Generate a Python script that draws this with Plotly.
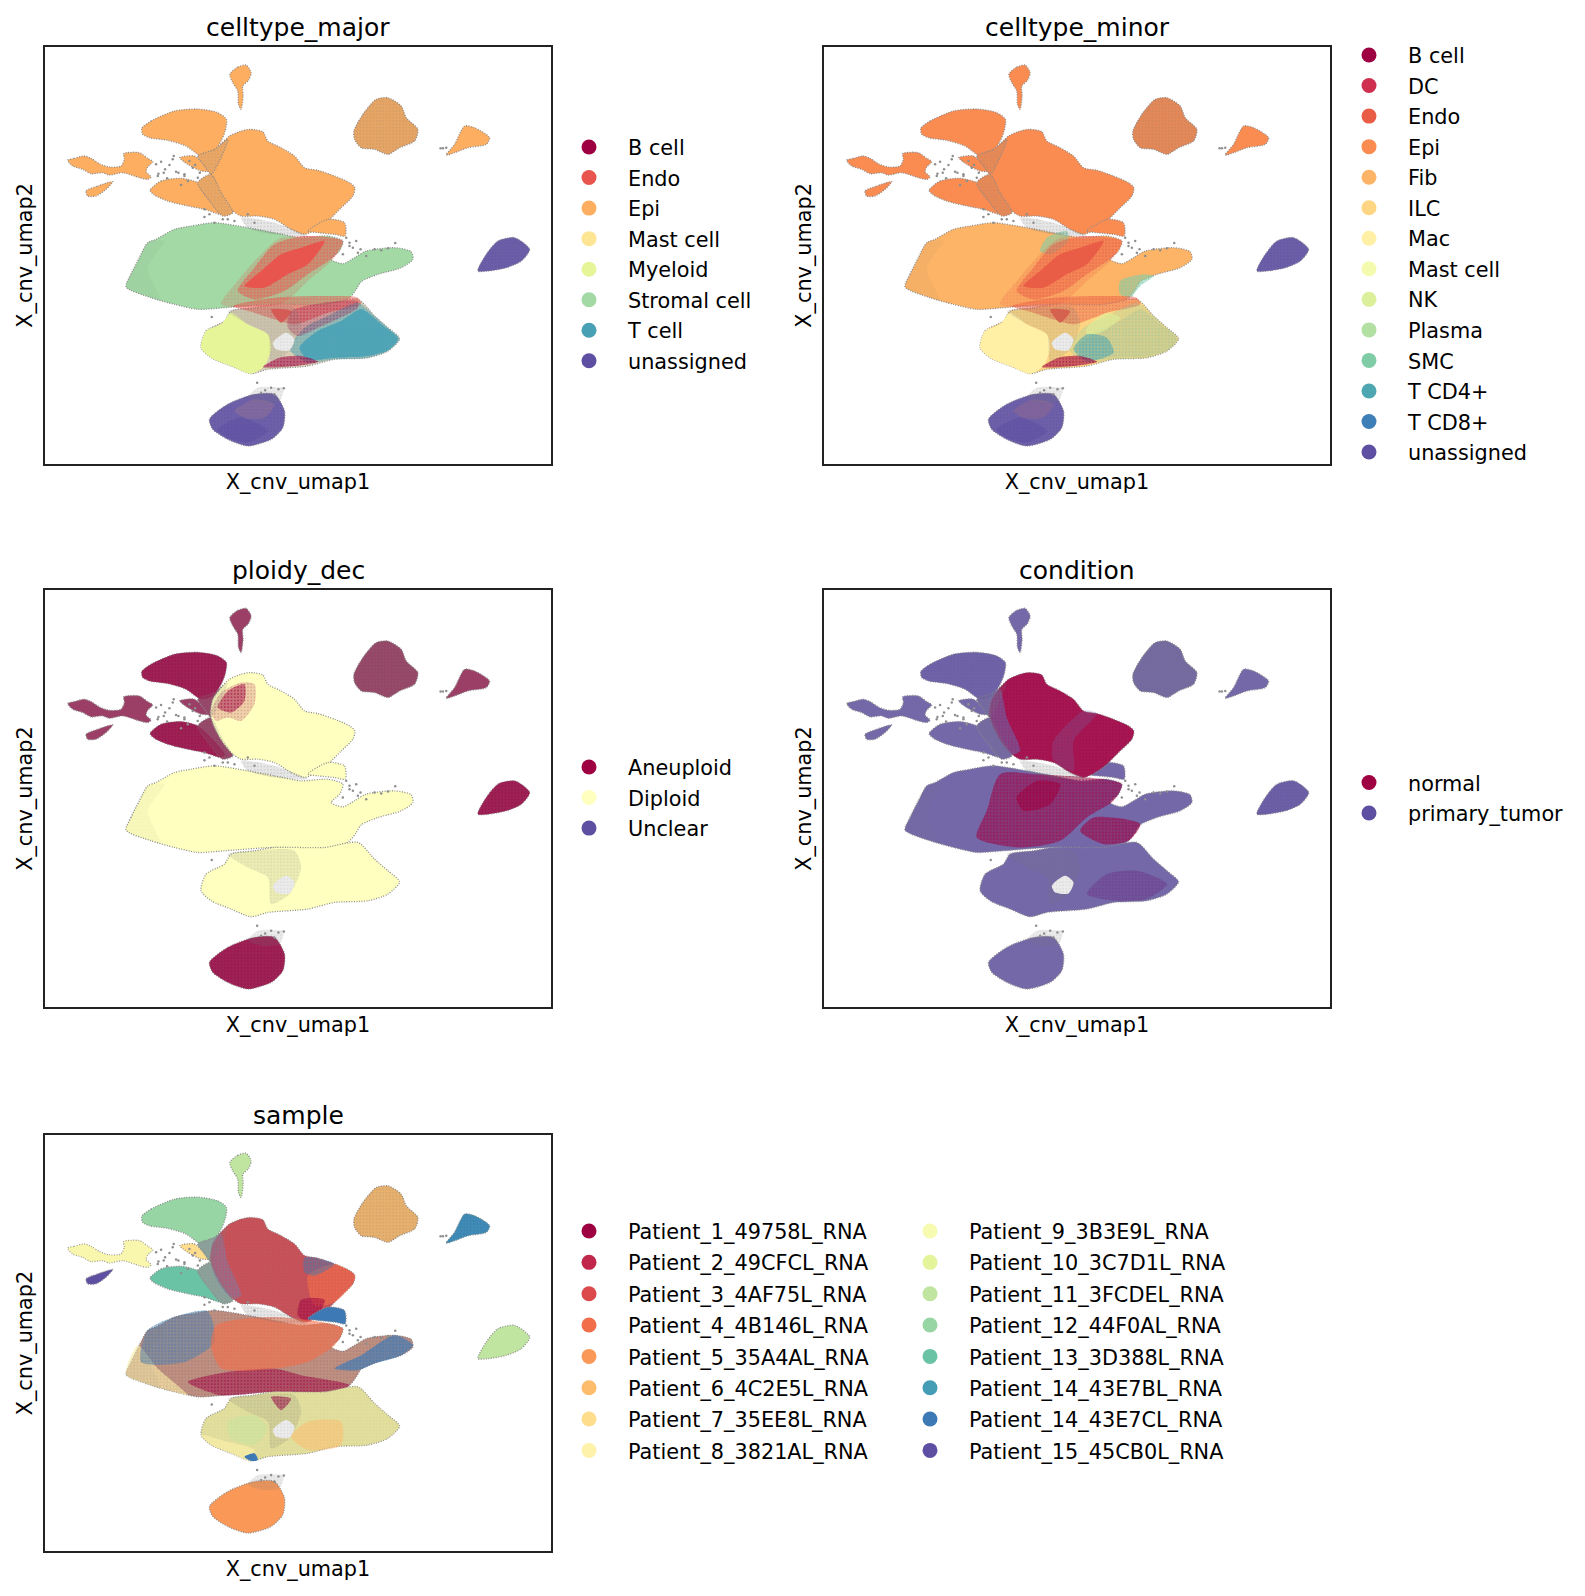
import plotly.graph_objects as go
from plotly.subplots import make_subplots

W, H = 1585, 1596
PAGE_MARGIN = 7  # the browser keeps a body margin round the plot

# cluster outlines on the umap plane
tail = [(566,100),(590,78),(615,72),(630,95),(622,118),(605,135),(606,165),(600,205),(592,190),(590,150),(575,125)]
lobe_a = [(302,262),(330,240),(400,210),(470,204),(530,215),(556,235),(552,270),(540,300),(515,335),(480,345),(435,315),(380,298),(325,290),(305,280)]
lobe_b = [(327,448),(360,420),(420,412),(470,425),(520,470),(552,512),(540,520),(490,505),(440,495),(380,480),(340,462)]
wedge = [(416,350),(460,345),(505,390),(480,390),(440,370)]
conn_a = [(470,345),(520,325),(560,295),(530,370),(510,400),(490,375)]
conn_b = [(470,425),(510,400),(540,455),(575,515),(545,525),(505,480)]
left_arm = [(80,358),(100,352),(130,345),(150,352),(175,368),(205,378),(240,375),(250,355),(248,338),(295,335),(320,352),(335,362),(320,378),(315,392),(330,408),(320,415),(295,410),(245,395),(205,402),(185,395),(150,398),(125,385),(95,375)]
left_small = [(135,450),(170,435),(215,422),(195,445),(165,465),(140,465)]
main_epi = [(515,345),(540,310),(565,285),(600,270),(625,265),(665,272),(680,300),(720,320),(760,345),(790,380),(830,388),(880,405),(925,425),(941,440),(935,465),(900,500),(860,540),(825,565),(790,580),(750,565),(700,535),(650,525),(600,525),(575,510),(545,475),(520,430),(508,390)]
epi_right = [(800,570),(860,535),(910,545),(912,585),(880,580),(830,575)]
top_right = [(938,270),(965,220),(1005,175),(1040,170),(1080,195),(1095,230),(1130,265),(1120,300),(1075,320),(1040,340),(1000,325),(960,320),(940,295)]
tri = [(1215,342),(1240,310),(1270,255),(1300,260),(1345,290),(1335,310),(1280,320),(1240,335)]
right_blob = [(1310,690),(1335,640),(1370,600),(1420,590),(1465,625),(1440,660),(1395,680),(1340,690)]
bottom_blob = [(505,1135),(560,1090),(640,1060),(700,1060),(730,1110),(725,1160),(690,1195),(620,1215),(560,1195),(515,1165)]
bottom_top = [(620,1068),(650,1040),(700,1038),(728,1042),(715,1080),(660,1085)]
middle = [(255,738),(270,700),(295,650),(320,605),(345,595),(400,565),(450,555),(520,545),(620,560),(700,575),(780,590),(860,585),(905,600),(895,630),(870,655),(905,668),(940,650),(975,630),(1060,620),(1110,632),(1115,655),(1080,680),(1010,700),(960,722),(945,745),(925,770),(860,800),(700,790),(550,800),(470,805),(400,790),(330,770)]
lower = [(480,920),(495,870),(550,840),(570,810),(640,800),(700,790),(850,790),(950,775),(1000,825),(1040,860),(1075,893),(1040,930),(980,950),(880,955),(800,975),(680,985),(630,998),(570,975),(510,950)]

endo_wide = [(540,790),(590,720),(650,650),(720,590),(905,600),(880,650),(800,720),(720,790)]
endo_band = [(590,750),(640,680),(700,610),(790,585),(905,600),(880,645),(800,700),(730,750),(640,775)]
endo_core = [(610,735),(660,690),(720,640),(780,620),(850,600),(800,670),(740,700),(670,740)]
endo_low = [(575,795),(700,770),(860,765),(950,770),(960,790),(860,815),(760,850),(700,835),(640,815)]
endo_tri = [(690,805),(750,810),(720,845)]
tcell_wide = [(745,925),(790,860),(860,825),(950,785),(1000,825),(1040,860),(1075,893),(1040,930),(980,950),(880,955),(800,965)]
tcell_core = [(775,920),(830,870),(900,840),(960,805),(1020,850),(1070,893),(1040,928),(980,945),(880,950),(800,955)]
crimson_haze = [(750,810),(950,780),(950,800),(830,860),(770,885),(740,860)]
myeloid = [(480,920),(495,870),(540,850),(570,815),(620,850),(680,880),(690,920),(670,975),(630,998),(570,975),(510,950)]
bcell = [(665,978),(715,950),(780,945),(830,962),(760,975)]
sparse = [(560,810),(640,800),(760,800),(780,850),(745,930),(690,960),(680,880),(620,850)]
hole = [(695,905),(735,875),(760,895),(745,928),(705,925)]
band = [(600,530),(700,545),(800,585),(700,580),(620,560)]
left_edge = [(255,738),(290,650),(320,605),(370,600),(320,680),(360,780),(330,770)]
smc_top = [(680,590),(740,570),(745,600),(690,640),(660,630)]
smc_right = [(900,720),(970,700),(1000,705),(960,735),(930,770),(900,760)]
green_low = [(800,860),(860,815),(900,830),(850,870),(800,885)]
teal_low = [(760,925),(800,880),(860,890),(880,935),(800,960)]
red_patch = [(510,385),(540,325),(600,295),(640,300),(640,360),(600,410),(560,400),(525,410)]
red_core = [(530,370),(560,320),(610,300),(610,350),(570,385)]
mid_red = [(540,570),(650,570),(905,600),(880,650),(800,700),(720,770),(600,790),(470,760),(500,680)]
mid_red_core = [(590,640),(650,590),(720,600),(690,660),(610,680)]
mid_red_right = [(820,700),(960,720),(925,770),(850,780),(780,740)]
epi_edge = [(510,400),(515,340),(540,315),(560,400),(600,500),(575,510),(530,460)]
epi_low_right = [(700,470),(790,380),(830,388),(760,470),(760,560),(700,530)]
teal_left = [(320,605),(400,565),(500,548),(520,640),(430,700),(300,700)]
orange_mid = [(525,590),(690,565),(905,600),(880,650),(800,700),(700,720),(540,720),(510,650)]
crimson_mid = [(440,760),(560,730),(700,720),(780,740),(925,770),(860,800),(700,790),(540,800)]
blue_right = [(880,720),(960,680),(1060,620),(1115,650),(1080,680),(1000,705),(950,725)]
yellow_left = [(255,738),(290,650),(350,720),(440,800),(400,790),(330,770)]
orange_low = [(750,925),(800,880),(900,880),(900,950),(800,965)]
tip_orange = [(800,440),(880,405),(941,440),(935,465),(880,520),(820,530)]
blue_tip = [(790,385),(830,388),(880,405),(820,440),(790,430)]
crimson_epi = [(780,513),(850,513),(830,560),(800,580),(770,560)]
blue_low = [(610,985),(640,975),(650,995),(630,998)]
green_myeloid = [(560,880),(640,860),(680,900),(640,950),(570,930)]
yellow_edge = [(480,920),(510,950),(570,975),(630,998),(640,965),(560,940)]
purple_core = [(800,930),(860,870),(950,860),(1040,900),(980,945),(880,950)]
blob_core = [(530,1165),(600,1130),(680,1170),(620,1205),(560,1190)]
blob_upper = [(580,1110),(640,1075),(700,1090),(670,1130),(610,1130)]

# loose cells scattered between the clusters
stray_x = [345,360,372,385,398,405,352,378,412,430,445,462,476,420,440,395,490,505,520,490,545,580,640,648,672,690,700,712,728,660,915,925,935,945,958,905,1062,1198,1205,1215,512,560,620,350,368,430,455,470,925,950,975,1000,1020,1040]
stray_y = [370,362,385,372,345,392,398,412,395,405,360,372,395,432,420,355,528,520,545,505,535,540,545,1025,1048,1040,1060,1045,1042,1055,590,605,620,600,625,640,606,322,322,320,828,535,520,405,395,400,380,410,615,635,645,625,628,622]

major_cats = ["B cell","Endo","Epi","Mast cell","Myeloid","Stromal cell","T cell","unassigned"]
major_cols = ["#9e0142","#e8554e","#fdae61","#fee593","#e6f598","#a2d9a4","#47a0b3","#5e4fa2"]
minor_cats = ["B cell","DC","Endo","Epi","Fib","ILC","Mac","Mast cell","NK","Plasma","SMC","T CD4+","T CD8+","unassigned"]
minor_cols = ["#9e0142","#cf304f","#e95d47","#fa8c52","#fdb466","#fed683","#fff0a6","#f5fbae","#dcf09b","#b2e0a2","#80cca6","#4ea6b1","#3f7fb8","#5e4fa2"]
ploidy_cats = ["Aneuploid","Diploid","Unclear"]
ploidy_cols = ["#9e0142","#ffffbf","#5e4fa2"]
condition_cats = ["normal","primary_tumor"]
condition_cols = ["#9e0142","#5e4fa2"]
sample_cats = ["Patient_1_49758L_RNA","Patient_2_49CFCL_RNA","Patient_3_4AF75L_RNA","Patient_4_4B146L_RNA",
    "Patient_5_35A4AL_RNA","Patient_6_4C2E5L_RNA","Patient_7_35EE8L_RNA","Patient_8_3821AL_RNA",
    "Patient_9_3B3E9L_RNA","Patient_10_3C7D1L_RNA","Patient_11_3FCDEL_RNA","Patient_12_44F0AL_RNA",
    "Patient_13_3D388L_RNA","Patient_14_43E7BL_RNA","Patient_14_43E7CL_RNA","Patient_15_45CB0L_RNA"]
sample_cols = ["#9e0142","#c1274a","#dc494c","#f26d4a","#fa9857","#fdbb6c","#fedd8d","#fef2aa",
    "#f6fbb1","#e4f49b","#c0e5a0","#97d5a4","#6bc3a5","#449db4","#3c79b5","#5e4fa2"]

titles = ["celltype_major","celltype_minor","ploidy_dec","condition","sample"]
GREY = "#777777"
CLEAR = "rgba(0,0,0,0)"
ISLANDS = [tail, lobe_a, lobe_b, wedge, left_arm, left_small, main_epi, epi_right, top_right, tri]

fig = make_subplots(rows=3, cols=2, specs=[[{},{}],[{},{}],[{},None]])
cells = [(1,1),(1,2),(2,1),(2,2),(3,1)]

def blob(panel, outline, color=CLEAR, dots=None, size=4, solid=0.35, edge=False):
    xs = [p[0] for p in outline] + [outline[0][0]]
    ys = [p[1] for p in outline] + [outline[0][1]]
    kw = {}
    if dots:
        kw["fillpattern"] = dict(shape=".", bgcolor=color, fgcolor=dots, size=size, solidity=solid)
    line = dict(shape="spline", smoothing=0.7, width=0)
    if edge:
        line.update(color="#8c8c8c", width=1.3, dash="1px,1.5px")
    r, c = cells[panel]
    fig.add_trace(go.Scatter(x=xs, y=ys, mode="lines", fill="toself", fillcolor=color, line=line,
                             hoverinfo="skip", showlegend=False, **kw), row=r, col=c)

def grain(panel, outline, color, solid=0.15, layers=3):
    # overplotted cells at this scale read as a blended tint plus a fine dot texture
    cover = 1 - (1 - solid) ** layers
    rgb = [int(color[i:i + 2], 16) for i in (1, 3, 5)]
    tint = "rgba(%d,%d,%d,%.2f)" % (rgb[0], rgb[1], rgb[2], cover * 0.8)
    blob(panel, outline, tint)
    blob(panel, outline, CLEAR, color, 3.3, min(0.25, cover * 0.4))

def base(panel, outlines, color):
    for o in outlines:
        blob(panel, o, color, edge=True)

def speckle(panel, tint=GREY):
    # grey noise that shows through in every panel
    grain(panel, top_right, tint, 0.07)
    grain(panel, conn_a, tint, 0.1, 2)
    grain(panel, conn_b, tint, 0.1, 2)
    grain(panel, band, tint, 0.12, 2)
    grain(panel, sparse, tint, 0.1, 2)
    grain(panel, left_edge, tint, 0.03, 2)
    blob(panel, hole, "#ffffff")
    grain(panel, hole, tint, 0.1, 2)
    grain(panel, bottom_top, tint, 0.1, 2)
    r, c = cells[panel]
    fig.add_trace(go.Scatter(x=stray_x, y=stray_y, mode="markers", marker=dict(size=2.5, color="#8f8f8f"),
                             hoverinfo="skip", showlegend=False), row=r, col=c)

# celltype_major
e, s, u = major_cols[2], major_cols[5], major_cols[7]
base(0, ISLANDS + [conn_a, conn_b], e)
base(0, [middle], s)
base(0, [lower], "#d9cfb4")
base(0, [right_blob, bottom_blob], "#7468ab")
grain(0, right_blob, u, 0.2)
grain(0, bottom_blob, u, 0.15)
grain(0, blob_core, u, 0.3)
grain(0, blob_upper, e, 0.05)
grain(0, endo_wide, major_cols[1], 0.08)
grain(0, endo_band, major_cols[1], 0.25)
blob(0, endo_core, major_cols[1])
grain(0, endo_low, major_cols[1], 0.25)
blob(0, endo_tri, major_cols[1])
grain(0, tcell_wide, major_cols[6], 0.25)
blob(0, tcell_core, "#5aa9b8")
grain(0, tcell_core, major_cols[6], 0.3)
grain(0, crimson_haze, major_cols[0], 0.12)
blob(0, myeloid, major_cols[4])
grain(0, bcell, major_cols[0], 0.3)
speckle(0)

# celltype_minor
e, s = minor_cols[3], minor_cols[4]
base(1, ISLANDS + [conn_a, conn_b], e)
base(1, [middle], s)
base(1, [lower], minor_cols[5])
base(1, [right_blob, bottom_blob], "#7468ab")
grain(1, right_blob, minor_cols[13], 0.2)
grain(1, bottom_blob, minor_cols[13], 0.15)
grain(1, blob_core, minor_cols[13], 0.3)
grain(1, blob_upper, e, 0.05)
grain(1, smc_top, minor_cols[10], 0.3)
grain(1, smc_right, minor_cols[10], 0.3)
grain(1, endo_wide, minor_cols[2], 0.08)
grain(1, endo_band, minor_cols[2], 0.25)
blob(1, endo_core, minor_cols[2])
grain(1, endo_low, minor_cols[2], 0.25)
blob(1, endo_tri, minor_cols[2])
grain(1, tcell_wide, minor_cols[10], 0.1)
grain(1, tcell_core, minor_cols[11], 0.05)
grain(1, green_low, minor_cols[8], 0.3)
grain(1, teal_low, minor_cols[11], 0.28)
blob(1, myeloid, minor_cols[6])
grain(1, bcell, minor_cols[0], 0.35)
speckle(1)

# ploidy_dec
r, y = ploidy_cols[0], ploidy_cols[1]
base(2, ISLANDS[:6] + ISLANDS[8:] + [conn_a, conn_b, right_blob, bottom_blob], "#9c3f66")
grain(2, lobe_a, r, 0.25)
grain(2, lobe_b, r, 0.25)
grain(2, bottom_blob, r, 0.25)
grain(2, right_blob, r, 0.25)
base(2, [main_epi, epi_right, middle, lower], y)
grain(2, red_patch, r, 0.08)
grain(2, red_core, r, 0.25)
speckle(2)

# condition
p, r = "#6a5ba4", "#9e0142"
tumour = ISLANDS[:6] + ISLANDS[7:] + [conn_a, conn_b, right_blob, bottom_blob, middle, lower]
base(3, tumour, "#7468a8")
grain(3, right_blob, condition_cols[1], 0.15)
grain(3, lobe_a, condition_cols[1], 0.1)
base(3, [main_epi], "#a8215a")
grain(3, main_epi, r, 0.15)
grain(3, epi_edge, "#6f62a6", 0.3)
grain(3, epi_low_right, "#7468a8", 0.1)
grain(3, mid_red, r, 0.28)
grain(3, mid_red_core, r, 0.35)
grain(3, mid_red_right, r, 0.3)
grain(3, purple_core, condition_cols[1], 0.2)
grain(3, purple_core, r, 0.05)
speckle(3)

# sample
def col(i):
    return sample_cols[i]
base(4, [tail, right_blob], col(10))
base(4, [lobe_a], col(11))
base(4, [lobe_b], col(12))
base(4, [wedge], col(6))
base(4, [left_arm], col(8))
grain(4, left_arm, col(7), 0.2)
base(4, [left_small], col(15))
base(4, [top_right], col(5))
base(4, [tri], col(14))
grain(4, tri, col(13), 0.2)
base(4, [bottom_blob], col(4))
base(4, [conn_a, conn_b], "#8fa8a0")
base(4, [main_epi], "#c94a58")
grain(4, main_epi, col(3), 0.1)
grain(4, main_epi, col(1), 0.08, 2)
grain(4, main_epi, col(13), 0.04, 2)
grain(4, tip_orange, col(3), 0.35)
grain(4, blue_tip, col(14), 0.2)
grain(4, crimson_epi, col(0), 0.25)
grain(4, epi_edge, "#7a7fb0", 0.2)
base(4, [epi_right], col(14))
base(4, [middle], "#cfa586")
grain(4, middle, col(13), 0.06, 2)
grain(4, middle, col(0), 0.08, 2)
grain(4, yellow_left, col(7), 0.3)
grain(4, teal_left, col(13), 0.18)
grain(4, teal_left, col(15), 0.07)
grain(4, crimson_mid, col(0), 0.25)
grain(4, orange_mid, col(3), 0.33)
grain(4, blue_right, col(14), 0.4)
base(4, [lower], "#e6e6a0")
grain(4, lower, col(6), 0.12)
grain(4, lower, col(13), 0.04, 2)
grain(4, orange_low, col(5), 0.25)
grain(4, green_myeloid, col(10), 0.2)
grain(4, yellow_edge, col(7), 0.3)
grain(4, endo_tri, col(0), 0.3)
blob(4, blue_low, col(14))
speckle(4)

# axes boxes, page pixels
boxes = [(44, 550, 45.7, 463), (823, 1329, 45.7, 463), (44, 550, 589, 1006),
         (823, 1329, 589, 1006), (44, 550, 1134, 1550)]
layout = {}
for i, (x0, x1, y0, y1) in enumerate(boxes):
    sfx = "" if i == 0 else str(i + 1)
    x0, x1 = x0 - PAGE_MARGIN, x1 - PAGE_MARGIN
    y0, y1 = y0 - PAGE_MARGIN, y1 - PAGE_MARGIN
    layout["xaxis" + sfx] = dict(domain=[x0 / W, x1 / W], range=[12, 1529], showticklabels=False, ticks="",
                                 showgrid=False, zeroline=False, showline=True, mirror=True, linecolor="#222222",
                                 linewidth=2, title=dict(text="X_cnv_umap1", font=dict(size=20.8), standoff=9))
    layout["yaxis" + sfx] = dict(domain=[1 - y1 / H, 1 - y0 / H], range=[1269, 17], showticklabels=False, ticks="",
                                 showgrid=False, zeroline=False, showline=True, mirror=True, linecolor="#222222",
                                 linewidth=2, title=dict(text="X_cnv_umap2", font=dict(size=20.8), standoff=5))

# legends: one per panel, two for the sample columns
def legend_dots(panel, cats, cols, legend_id):
    r, c = cells[panel]
    for cat, color in zip(cats, cols):
        fig.add_trace(go.Scatter(x=[None], y=[None], mode="markers", name=cat, legend=legend_id,
                                 legendgroup=legend_id + cat, marker=dict(size=15, color=color)), row=r, col=c)

legend_dots(0, major_cats, major_cols, "legend")
legend_dots(1, minor_cats, minor_cols, "legend2")
legend_dots(2, ploidy_cats, ploidy_cols, "legend3")
legend_dots(3, condition_cats, condition_cols, "legend4")
legend_dots(4, sample_cats[:8], sample_cols[:8], "legend5")
legend_dots(4, sample_cats[8:], sample_cols[8:], "legend6")

def legend_at(x_px, y_px, gap=0.5):
    return dict(x=(x_px - PAGE_MARGIN) / W, y=1 - (y_px - PAGE_MARGIN) / H, xanchor="left", yanchor="middle",
                traceorder="grouped", tracegroupgap=gap, itemwidth=68, itemsizing="trace", bgcolor=CLEAR,
                font=dict(size=20.8), itemclick=False, itemdoubleclick=False)

layout["legend"] = legend_at(549, 253)
layout["legend2"] = legend_at(1329, 253)
layout["legend3"] = legend_at(549, 797)
layout["legend4"] = legend_at(1329, 797)
layout["legend5"] = legend_at(549, 1340, 1.3)
layout["legend6"] = legend_at(890, 1340, 1.3)

annotations = []
for (x0, x1, y0, y1), t in zip(boxes, titles):
    annotations.append(dict(text=t, x=((x0 + x1) / 2 - PAGE_MARGIN) / W, y=1 - (y0 - PAGE_MARGIN) / H,
                            xref="paper", yref="paper", xanchor="center", yanchor="bottom", yshift=3,
                            showarrow=False, font=dict(size=25)))

fig.update_layout(width=W, height=H, margin=dict(l=0, r=0, t=0, b=0), paper_bgcolor="white", plot_bgcolor="white",
                  font=dict(family="DejaVu Sans", color="black"), annotations=annotations, showlegend=True, **layout)

fig.write_html("out.html")
